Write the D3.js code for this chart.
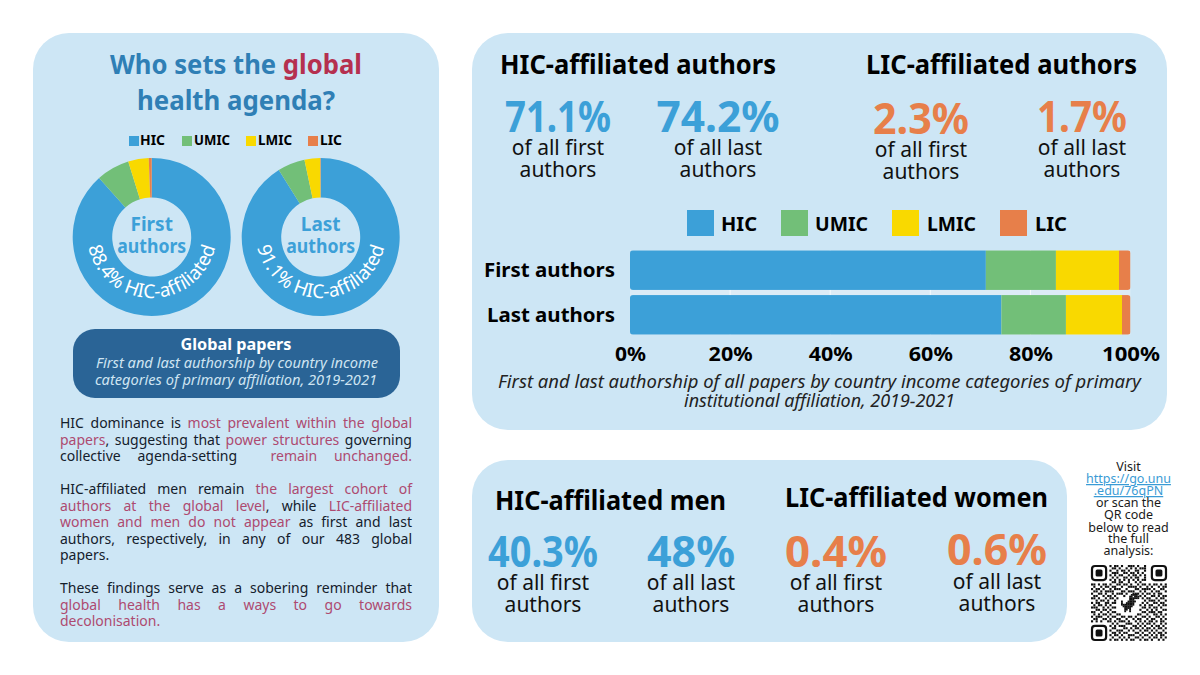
<!DOCTYPE html>
<html><head><meta charset="utf-8">
<script src="https://cdn.jsdelivr.net/npm/d3@7"></script>
<style>html,body{margin:0;padding:0;background:#fff}svg{display:block}text{font-family:"Noto Sans","Open Sans",sans-serif}</style>
</head><body><svg id="c" width="1200" height="675"></svg>
<script>
const categories=["HIC","UMIC","LMIC","LIC"];
const colors=["#3ca0d8","#72bf78","#f9d900","#e77f4a"];
const barLabels=["First authors","Last authors"];
const barFirst=[71.1,14,12.6,2.3];
const barLast=[74.2,12.9,11.2,1.7];
const donutFirst=[88.4,6.8,4.2,0.6];
const donutLast=[91.1,5.6,3.2,0.1];
const axisTicks=[0,20,40,60,80,100];
const RED="#b5304f",PINK="#ad4a70",INK="#14202c",BLUE="#2f7fb5",PANEL="#cde6f5";
const para=[
 [[["HIC dominance is ",INK],["most prevalent within the global",PINK]],428,1],
 [[["papers",PINK],[", suggesting that ",INK],["power structures",PINK],[" governing",INK]],445,1],
 [[["collective agenda-setting  ",INK],["remain unchanged.",PINK]],461,1],
 [[["HIC-affiliated men remain ",INK],["the largest cohort of",PINK]],494,1],
 [[["authors at the global level",PINK],[", while ",INK],["LIC-affiliated",PINK]],511,1],
 [[["women and men do not appear",PINK],[" as first and last",INK]],527,1],
 [[["authors, respectively, in any of our 483 global",INK]],544,1],
 [[["papers.",INK]],560,0],
 [[["These findings serve as a sobering reminder that",INK]],593,1],
 [[["global health has a ways to go towards",PINK]],610,1],
 [[["decolonisation.",PINK]],626,0]
];
const qrLines=["Visit","https://go.unu",".edu/76qPN","or scan the","QR code","below to read","the full","analysis:"];
const qrRows=[
"000000001011010011101001000000000",
"000000000110100101010111000000000",
"000000001001011010011001000000000",
"000000000111001101101010000000000",
"000000001010110010110101000000000",
"000000000101001101011001000000000",
"000000001010101010101011000000000",
"000000000110110010010100000000000",
"110101101001101101001011010110101",
"010010110110010011110100101001011",
"101101001011100100011011110100110",
"011010111100011011100101001011001",
"100110100101110100111010110101100",
"011001011010001000000101001101011",
"110100101101000000000010110010110",
"001011010010000000000001011101001",
"101100110110000000000010100110110",
"010110101000000000000101011001011",
"111001010110000000000011010110100",
"001101101000000000000100101010011",
"110010010110000000000011011101100",
"010101101001100000001100100110101",
"101110010110011011010011010011010",
"011001101001100100101100101100101",
"101010011010111010010101011010110",
"000000000101000111001010110100101",
"000000001010111000110101001011010",
"000000000110001101011010110101101",
"000000001001110010100101101010010",
"000000000110101100011010010101101",
"000000001011010011100101101010110",
"000000000100101010011010010110101",
"000000001011010101100101101001010"];
const dinoRows=[
"00000011110",
"00000110111",
"00000111111",
"00000111000",
"10001111100",
"10011111000",
"11111111000",
"01111110000",
"00111100000",
"00110100000",
"00100100000"];

const svg=d3.select("#c");
function T(x,y,s,o={}){
  const e=svg.append("text").attr("x",x).attr("y",y).text(s)
    .attr("font-size",o.size||14).attr("font-weight",o.weight||400).attr("fill",o.fill||"#000")
    .attr("text-anchor",o.anchor||"middle");
  if(o.italic)e.attr("font-style","italic");
  if(o.width)e.attr("textLength",o.width).attr("lengthAdjust","spacingAndGlyphs");
  if(o.ul)e.attr("text-decoration","underline");
  return e;
}
// panels
[[33,33,406,609],[472,33,695,397],[472,460,595,182]].forEach(p=>svg.append("rect")
  .attr("x",p[0]).attr("y",p[1]).attr("width",p[2]).attr("height",p[3]).attr("rx",36).attr("fill",PANEL));

// left title
const tt=svg.append("text").attr("x",236).attr("y",74).attr("text-anchor","middle").attr("font-size",27).attr("font-weight",700)
  .attr("textLength",252).attr("lengthAdjust","spacingAndGlyphs");
tt.append("tspan").text("Who sets the ").attr("fill",BLUE);
tt.append("tspan").text("global").attr("fill",RED);
T(236,110,"health agenda?",{size:27,weight:700,fill:BLUE,width:198});

// small legend
const smallLegend=[[129,140,25],[182,194,36],[246,258,34],[308,320,22]];
categories.forEach((c,i)=>{
  const p=smallLegend[i];
  svg.append("rect").attr("x",p[0]).attr("y",136).attr("width",10).attr("height",10).attr("fill",colors[i]);
  T(p[1],145,c,{size:14,weight:700,anchor:"start",width:p[2]});
});

// donuts
const pie=d3.pie().sort(null);
const arc=d3.arc().innerRadius(39.5).outerRadius(79);
function donut(cx,cy,vals,lab1,lab2,label,id){
  const g=svg.append("g").attr("transform",`translate(${cx},${cy})`);
  g.selectAll("path").data(pie(vals)).join("path").attr("d",arc).attr("fill",(d,i)=>colors[i]);
  T(cx,231,lab1,{size:19,weight:700,fill:colors[0]});
  T(cx,253,lab2,{size:19,weight:700,fill:colors[0],width:69});
  const R=65;
  svg.append("defs").append("path").attr("id",id)
    .attr("d",`M${cx-R},${cy-4} A${R},${R} 0 0 0 ${cx+R},${cy-4}`);
  svg.append("text").attr("font-size",19).attr("fill","#fff").attr("text-anchor","middle")
    .append("textPath").attr("href","#"+id).attr("startOffset","50%").text(label);
}
donut(151.7,237,donutFirst,"First","authors","88.4% HIC-affiliated","arcA");
donut(320.7,237,donutLast,"Last","authors","91.1% HIC-affiliated","arcB");

// dark box
svg.append("rect").attr("x",73).attr("y",329).attr("width",327).attr("height",69).attr("rx",22).attr("fill","#2a6496");
T(236,350,"Global papers",{size:16,weight:700,fill:"#fff",width:111});
T(237,368,"First and last authorship by country income",{size:14.5,italic:true,fill:"#cfe4f2",width:282});
T(236,385,"categories of primary affiliation, 2019-2021",{size:14.5,italic:true,fill:"#cfe4f2",width:282});

// justified paragraph
para.forEach(([segs,y,just])=>{
  const e=svg.append("text").attr("x",60).attr("y",y).attr("font-size",14).attr("xml:space","preserve").style("white-space","pre");
  segs.forEach(s=>e.append("tspan").text(s[0]).attr("fill",s[1]));
  if(just){
    const str=segs.map(s=>s[0]).join(""),n=(str.match(/ /g)||[]).length;
    const w=e.node().getComputedTextLength();
    e.attr("word-spacing",(352-w)/n);
  }
});

// headlines
T(638,74,"HIC-affiliated authors",{size:27,weight:700,width:276});
T(1001.5,74,"LIC-affiliated authors",{size:27,weight:700,width:271});
T(610.5,510,"HIC-affiliated men",{size:27,weight:700,width:231});
T(916.5,507,"LIC-affiliated women",{size:27,weight:700,width:263});

// stat blocks
const statVals=["71.1%","74.2%","2.3%","1.7%","40.3%","48%","0.4%","0.6%"];
const statSub=["of all first","of all last","of all first","of all last","of all first","of all last","of all first","of all last"];
const statLayout=[[558,132,106,155,177],[718,132,123,155,177],[921,134,96,157,179],[1082,132,90,155,177],
                  [543,567,110,590,612],[691,567,88,590,612],[836,567,102,590,612],[997,565,100,589,611]];
const statColor=[0,0,3,3,0,0,3,3];
statVals.forEach((v,i)=>{
  const l=statLayout[i];
  T(l[0],l[1],v,{size:43,weight:700,fill:colors[statColor[i]],width:l[2]});
  T(l[0],l[3],statSub[i],{size:21,fill:"#111"});
  T(l[0],l[4],"authors",{size:21,fill:"#111"});
});

// big legend
const bigLegend=[[687,721,36],[781,815,53],[892,927,49],[1000,1035,32]];
categories.forEach((c,i)=>{
  const p=bigLegend[i];
  svg.append("rect").attr("x",p[0]).attr("y",210).attr("width",27).attr("height",26).attr("fill",colors[i]);
  T(p[1],231,c,{size:20,weight:700,anchor:"start",width:p[2]});
});

// stacked bars
const x=d3.scaleLinear().domain([0,100]).range([630,1130.5]);
const y=d3.scaleBand().domain(barLabels).range([249,336]).paddingInner(0.115).paddingOuter(0.03);
svg.append("rect").attr("x",x(0)).attr("y",y(barLabels[0])).attr("width",x(100)-x(0))
  .attr("height",y(barLabels[1])+y.bandwidth()-y(barLabels[0])).attr("fill","#dcebf6");
svg.append("g").selectAll("line").data(axisTicks.slice(1,-1)).join("line")
  .attr("x1",d=>x(d)).attr("x2",d=>x(d)).attr("y1",y(barLabels[0])).attr("y2",y(barLabels[1])+y.bandwidth())
  .attr("stroke","#fff").attr("stroke-width",0.8);
const stack=d3.stack().keys(d3.range(4))([barFirst,barLast]);
const clip=svg.append("defs");
barLabels.forEach((b,i)=>{
  clip.append("clipPath").attr("id","b"+i).append("rect").attr("x",x(0)).attr("y",y(b))
    .attr("width",x(100)-x(0)).attr("height",y.bandwidth()).attr("rx",3);
  svg.append("g").attr("clip-path",`url(#b${i})`).selectAll("rect").data(stack.map(s=>s[i])).join("rect")
    .attr("x",d=>x(d[0])).attr("width",d=>x(d[1])-x(d[0])).attr("y",y(b)).attr("height",y.bandwidth())
    .attr("fill",(d,k)=>colors[k]);
  svg.append("rect").attr("x",x(0)).attr("y",y(b)).attr("width",x(100)-x(0)).attr("height",y.bandwidth()).attr("fill","none");
});
const ax=svg.append("g").attr("transform","translate(0,336)")
  .call(d3.axisBottom(x).tickValues(axisTicks).tickFormat(d=>d+"%").tickSize(0));
ax.select(".domain").remove();
ax.selectAll("text").attr("y",25).attr("dy",0).attr("font-size",20).attr("font-weight",700).attr("fill","#000")
  .attr("textLength",(d,i)=>d===100?58:d===0?31:44).attr("lengthAdjust","spacingAndGlyphs");
const ay=svg.append("g").attr("transform","translate(615,0)")
  .call(d3.axisLeft(y).tickSize(0).tickPadding(0));
ay.select(".domain").remove();
ay.selectAll("text").attr("font-size",20).attr("font-weight",700).attr("fill","#000").attr("dy","0.35em")
  .attr("textLength",d=>d===barLabels[0]?131:128).attr("lengthAdjust","spacingAndGlyphs");
T(819.5,388,"First and last authorship of all papers by country income categories of primary",{size:18.5,italic:true,fill:"#222",width:643});
T(819.5,407,"institutional affiliation, 2019-2021",{size:18.5,italic:true,fill:"#222",width:271});

// QR text
const qrY=[471,483,495,507,519,532,543,555];
qrLines.forEach((s,i)=>T(1128.5,qrY[i],s,{size:12.5,fill:(i==1||i==2)?"#3a9bd5":"#1a1a1a",ul:(i==1||i==2)}));

// QR code
const qx=d3.scaleLinear().domain([0,33]).range([1091,1167]);
const qy=d3.scaleLinear().domain([0,33]).range([565,641]);
const m=qx(1)-qx(0);
qrRows.forEach((r,j)=>[...r].forEach((c,i)=>{
  if(c==="1")svg.append("rect").attr("x",qx(i)).attr("y",qy(j)).attr("width",m*0.92).attr("height",m*0.92).attr("fill","#111");
}));
[[0,0],[26,0],[0,26]].forEach(([i,j])=>{
  svg.append("rect").attr("x",qx(i)+1).attr("y",qy(j)+1).attr("width",m*7-2).attr("height",m*7-2).attr("rx",3).attr("fill","none").attr("stroke","#111").attr("stroke-width",2.2);
  svg.append("rect").attr("x",qx(i+2)).attr("y",qy(j+2)).attr("width",m*3).attr("height",m*3).attr("rx",1.5).attr("fill","#111");
});
const dx=d3.scaleLinear().domain([0,11]).range([1121,1139]);
const dy=d3.scaleLinear().domain([0,11]).range([594,612]);
dinoRows.forEach((r,j)=>[...r].forEach((c,i)=>{
  if(c==="1")svg.append("rect").attr("x",dx(i)).attr("y",dy(j)).attr("width",dx(1)-dx(0)+0.2).attr("height",dy(1)-dy(0)+0.2).attr("fill","#111");
}));
</script></body></html>
